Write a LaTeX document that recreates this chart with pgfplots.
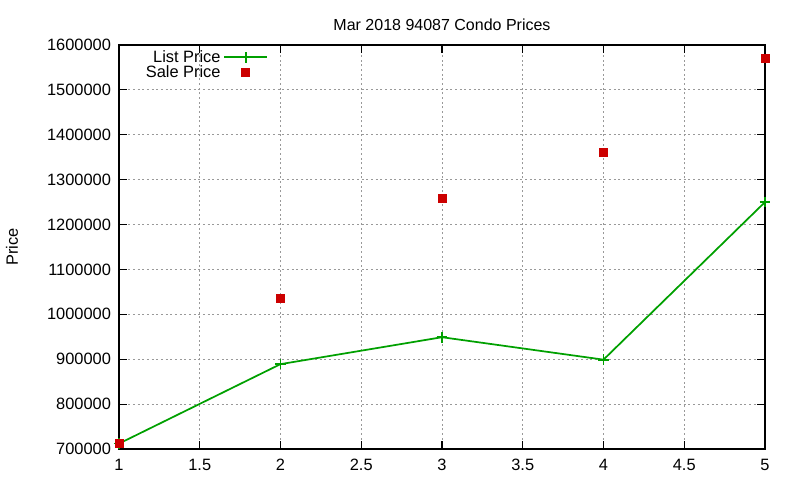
\documentclass[border=0pt]{standalone}
\usepackage{fontspec}
\setmainfont{Liberation Sans}
\usepackage{pgfplots}
\pgfplotsset{compat=1.18}
\definecolor{gpgreen}{HTML}{00A000}
\definecolor{gpred}{HTML}{CC0000}
\begin{document}
\begin{tikzpicture}[x=0.75pt,y=0.75pt]
\begin{axis}[
    scale only axis,
    width=484.5pt, height=303pt,
    xmin=1, xmax=5, ymin=700000, ymax=1600000,
    xtick={1,1.5,2,2.5,3,3.5,4,4.5,5},
    xticklabels={1,1.5,2,2.5,3,3.5,4,4.5,5},
    ytick={700000,800000,...,1600000},
    scaled y ticks=false,
    yticklabel style={/pgf/number format/fixed,/pgf/number format/1000 sep={}, xshift=-2.5pt},
    xticklabel style={yshift=-4pt},
    /pgf/number format/assume math mode=true,
    tick align=inside,
    tick style={black, line width=0.8pt},
    major tick length=6pt,
    axis line style={black, line width=0.8pt},
    grid=major,
    major grid style={gray!80, dash pattern=on 1.5pt off 2pt, line width=0.6pt},
    ticklabel style={font=\fontsize{12.3}{14}\selectfont},
    title={Mar 2018 94087 Condo Prices},
    title style={font=\fontsize{12}{14}\selectfont, yshift=1pt},
    ylabel={Price},
    ylabel style={font=\fontsize{12.3}{14}\selectfont, at={(axis description cs:-0.1656,0.5)}, anchor=center},
    clip=false,
    legend plot pos=right,
    legend cell align=right,
    legend style={draw=none, fill=none, at={(0.233,0.997)}, anchor=north east,
        font=\fontsize{12.3}{12}\selectfont, row sep=-3pt, inner sep=1pt},
    legend image code/.code={},
]
\addplot[gpgreen, line width=1.3pt, mark=+, mark size=4pt,
    mark options={line width=1.3pt},
    legend image code/.code={\draw[gpgreen, line width=1.5pt] (0pt,0pt) -- (32pt,0pt);
        \draw[gpgreen, line width=1.5pt] (16pt,-4pt) -- (16pt,4pt);}]
coordinates {
    (1, 712000)
    (2, 889000)
    (3, 949000)
    (4, 899000)
    (5, 1250000)
};
\addlegendentry{List Price}
\addplot[only marks, mark=square*, mark size=3pt, gpred, mark options={draw=gpred, fill=gpred},
    legend image code/.code={\fill[gpred] (13pt,-3pt) rectangle (19pt,3pt);}]
coordinates {
    (1, 712000)
    (2, 1035000)
    (3, 1258000)
    (4, 1360000)
    (5, 1570000)
};
\addlegendentry{Sale Price}
\end{axis}
\useasboundingbox ([xshift=-89.25pt,yshift=-23.25pt]current axis.south west)
    rectangle ([xshift=26.25pt,yshift=33.75pt]current axis.north east);
\end{tikzpicture}
\end{document}
